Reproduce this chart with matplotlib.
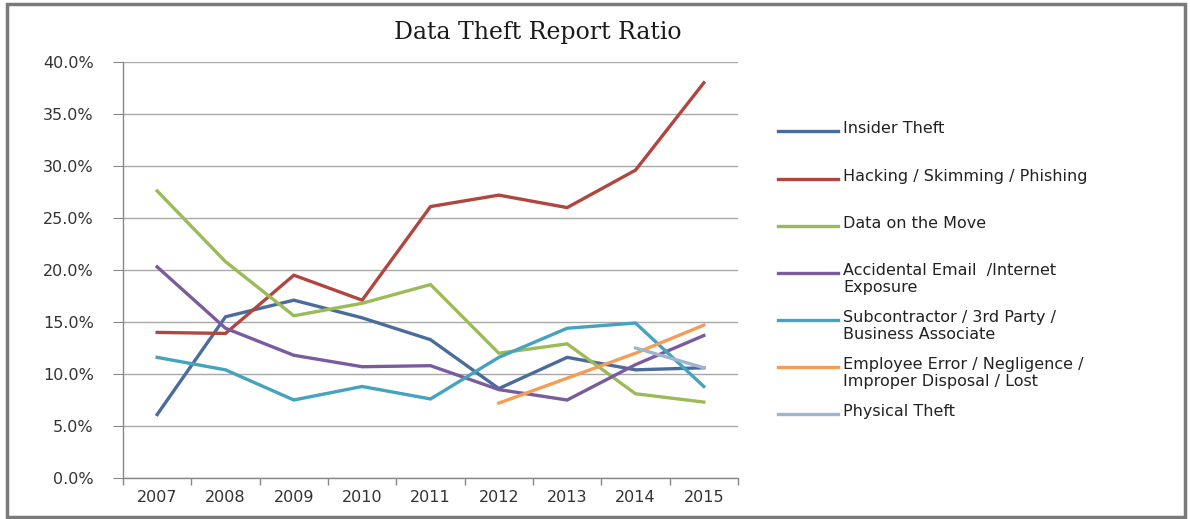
import matplotlib
matplotlib.use("Agg")
import matplotlib.pyplot as plt
import numpy as np
from matplotlib.lines import Line2D
from matplotlib.patches import Rectangle

years = ["2007", "2008", "2009", "2010", "2011", "2012", "2013", "2014", "2015"]

insider = [6.1, 15.5, 17.1, 15.4, 13.3, 8.6, 11.6, 10.4, 10.6]
hacking = [14.0, 13.9, 19.5, 17.1, 26.1, 27.2, 26.0, 29.6, 38.0]
data_move = [27.6, 20.8, 15.6, 16.8, 18.6, 12.0, 12.9, 8.1, 7.3]
accidental = [20.3, 14.4, 11.8, 10.7, 10.8, 8.5, 7.5, 10.9, 13.7]
subcontractor = [11.6, 10.4, 7.5, 8.8, 7.6, 11.6, 14.4, 14.9, 8.8]
employee = [None, None, None, None, None, 7.2, 9.6, 12.0, 14.7]
physical = [None, None, None, None, None, None, None, 12.5, 10.6]

labels = ["Insider Theft",
          "Hacking / Skimming / Phishing",
          "Data on the Move",
          "Accidental Email  /Internet\nExposure",
          "Subcontractor / 3rd Party /\nBusiness Associate",
          "Employee Error / Negligence /\nImproper Disposal / Lost",
          "Physical Theft"]
series = [insider, hacking, data_move, accidental, subcontractor, employee, physical]
colors = ["#4A6C9B", "#B0463F", "#9BBB59", "#7A5C9E", "#45A3BE", "#F59D56", "#9FB4CF"]

W, H = 1190, 519
fig = plt.figure(figsize=(W / 100, H / 100), dpi=100)
ax = fig.add_axes([123 / W, 1 - 478 / H, (738 - 123) / W, (478 - 62) / H])

x = np.arange(len(years))
for vals, col in zip(series, colors):
    y = np.array([np.nan if v is None else v / 100 for v in vals])
    ax.plot(x, y, color=col, lw=2.4, solid_joinstyle="miter", zorder=3)

ax.set_xlim(-0.5, len(years) - 0.5)
ax.set_ylim(0, 0.40)
ax.set_yticks(np.arange(0, 0.401, 0.05))
ax.set_yticklabels([f"{v * 100:.1f}%" for v in np.arange(0, 0.401, 0.05)])
ax.set_xticks(x)
ax.set_xticklabels(years)
ax.set_xticks(np.arange(-0.5, len(years)), minor=True)
ax.tick_params(axis="x", which="major", length=0, pad=9, labelsize=11.5, colors="#333333")
ax.tick_params(axis="x", which="minor", length=5, color="#888888", width=1)
ax.tick_params(axis="y", length=7, pad=14, labelsize=11.5, color="#888888", labelcolor="#333333")
ax.grid(axis="y", color="#A8A8A8", lw=1)
ax.set_axisbelow(True)
for s in ["top", "right"]:
    ax.spines[s].set_visible(False)
for s in ["left", "bottom"]:
    ax.spines[s].set_color("#888888")
    ax.spines[s].set_linewidth(1)

fig.text(538 / W, 1 - 32 / H, "Data Theft Report Ratio", family="DejaVu Serif",
         fontsize=17, ha="center", va="center", color="#1a1a1a")

# legend drawn by hand so the line sits on the first text row
leg_y = [131, 179, 226, 273, 320, 367, 414]
for lab, col, ly in zip(labels, colors, leg_y):
    fig.add_artist(Line2D([778 / W, 838 / W], [1 - ly / H, 1 - ly / H],
                          color=col, lw=2.4, transform=fig.transFigure))
    fig.text(843 / W, 1 - (ly - 10) / H, lab, fontsize=11.5, ha="left", va="top",
             color="#222222", linespacing=1.15)

fig.add_artist(Rectangle((7 / W, 2 / H), 1178 / W, 513 / H, fill=False,
                         edgecolor="#7A7A7A", lw=2.5, transform=fig.transFigure))

fig.savefig("out.png", dpi=100)
